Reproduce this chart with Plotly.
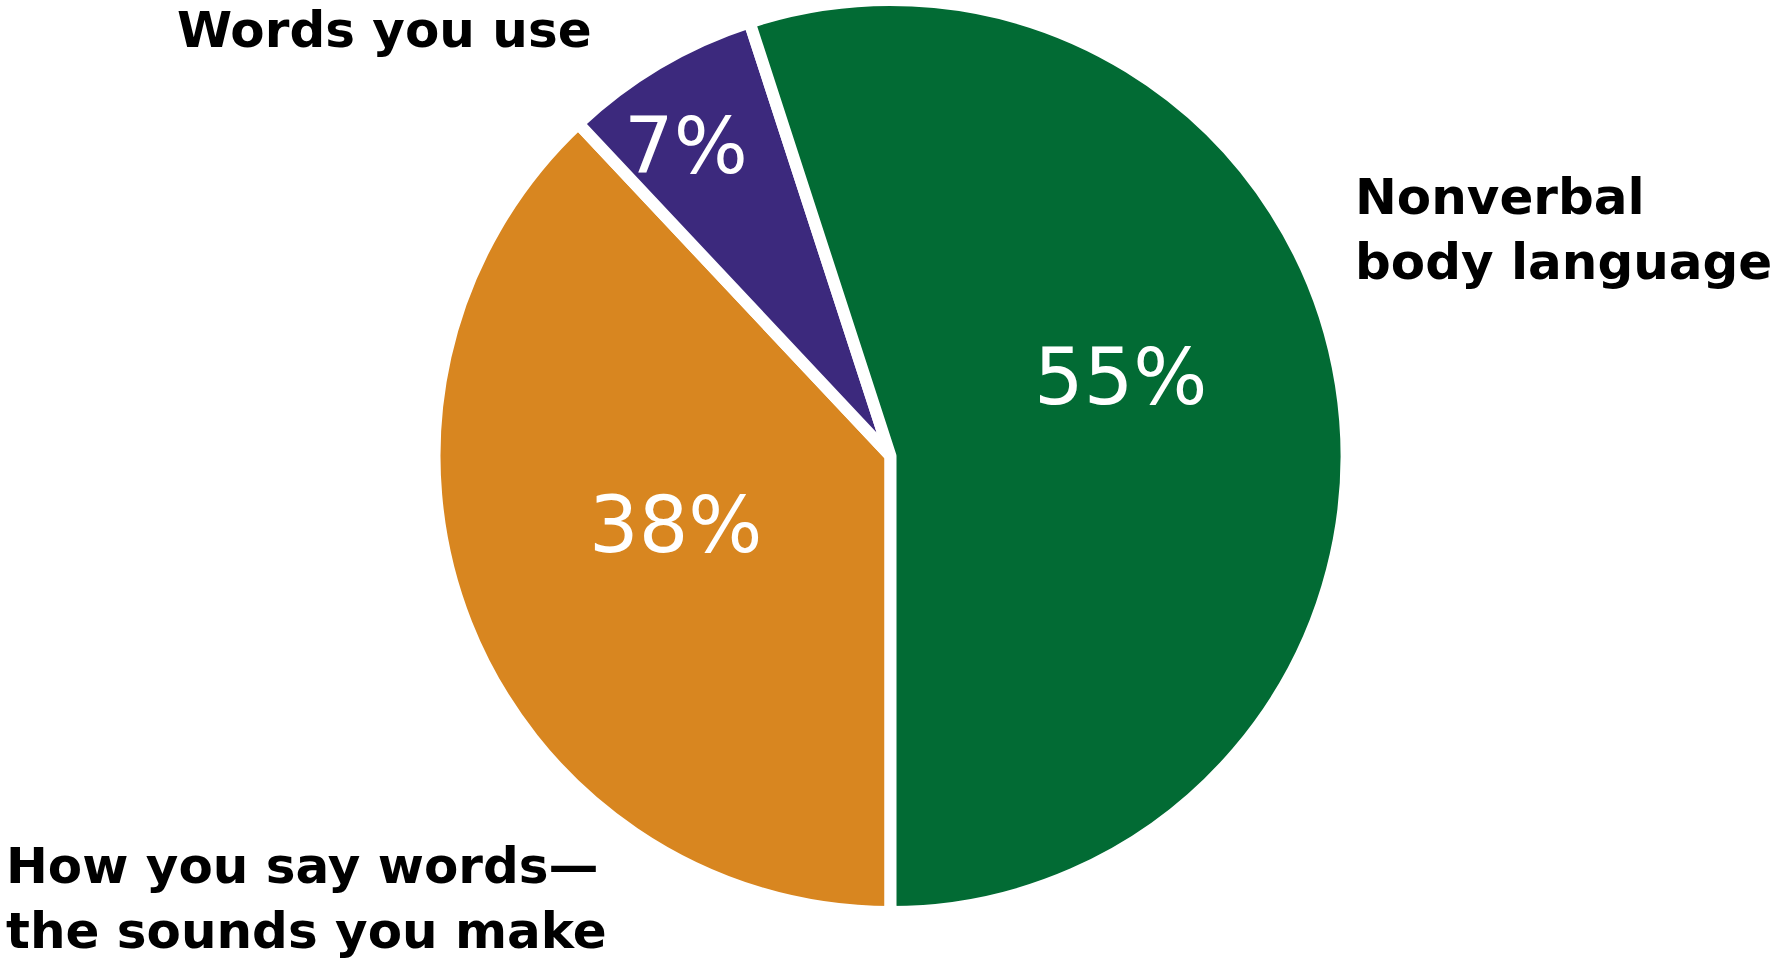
import plotly.graph_objects as go

# Data
labels = ["How you say words—<br>the sounds you make", "Words you use", "Nonverbal<br>body language"]
values = [38, 7, 55]
colors = ["#d88620", "#3c297d", "#026b34"]

W, H = 1783, 962
cx, cy, r = 890.5, 456, 456

fig = go.Figure()
fig.add_trace(go.Pie(
    labels=labels,
    values=values,
    sort=False,
    direction="clockwise",
    rotation=180,
    marker=dict(colors=colors, line=dict(color="white", width=12)),
    textinfo="none",
    showlegend=False,
    hoverinfo="label+percent",
    domain=dict(x=[(cx - r) / W, (cx + r) / W], y=[max(0, 1 - (cy + r) / H), min(1, 1 - (cy - r) / H)]),
))

# percentage labels inside the slices (pixel positions)
pct_pos = [(675, 525), (686, 146), (1120, 377)]
pct_font = dict(family="DejaVu Sans", size=78, color="white")
for v, (px, py) in zip(values, pct_pos):
    fig.add_annotation(xref="paper", yref="paper", x=px / W, y=1 - py / H,
                       text=f"{v}%", showarrow=False, font=pct_font,
                       xanchor="center", yanchor="middle")

label_font = dict(family="DejaVu Sans", size=50, color="black")
# (x, y, yanchor) in pixels from top-left
label_pos = [(4, 962, "bottom"), (175, -1, "top"), (1353, 166, "top")]
for lab, (px, py, ya) in zip(labels, label_pos):
    fig.add_annotation(xref="paper", yref="paper", x=px / W, y=1 - py / H,
                       text=f"<b>{lab}</b>", showarrow=False, font=label_font,
                       xanchor="left", yanchor=ya, align="left")

fig.update_layout(
    width=W, height=H,
    margin=dict(l=0, r=0, t=0, b=0),
    paper_bgcolor="white", plot_bgcolor="white",
)
fig.write_html("out.html", config={"displayModeBar": False},
               post_script="document.body.style.margin='0';document.body.style.overflow='hidden';")
